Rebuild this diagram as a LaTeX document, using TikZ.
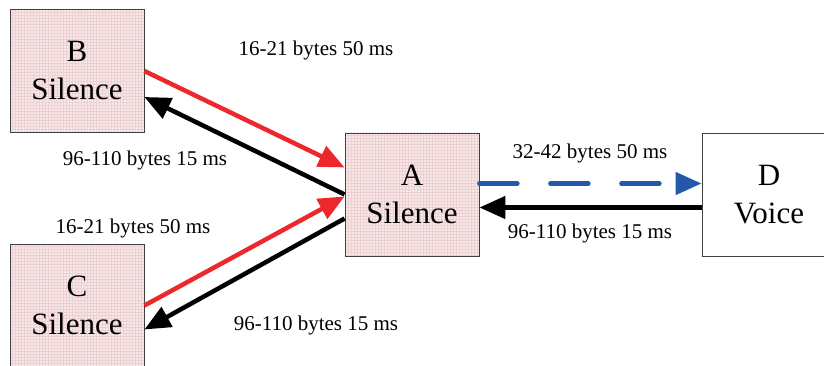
\documentclass[tikz,border=0pt]{standalone}
\usepackage{fontspec}
\setmainfont{Liberation Serif}
\usepackage{tikz}
\usetikzlibrary{arrows.meta,calc,patterns}
\definecolor{Pinkish}{RGB}{247, 232, 233}
\definecolor{PinkGrid}{RGB}{236, 208, 210}
\definecolor{Redline}{RGB}{236, 40, 44}
\definecolor{Blueline}{RGB}{36, 88, 168}

\tikzset{
    hostbox/.style = {draw = black!75, line width = 0.8pt,
        minimum width = 134pt, minimum height = 123pt,
        align = center, inner sep = 0pt,
        font = \fontsize{31}{38}\selectfont},
    silentbox/.style = {hostbox,
        preaction = {fill = Pinkish},
        pattern = grid, pattern color = PinkGrid},
    flow/.style = {line width = 4.5pt,
        -{Triangle[length = 26pt, width = 22pt]}},
    rate/.style = {font = \fontsize{21}{24}\selectfont}
}

\begin{document}
\begin{tikzpicture}[x=1pt, y=-1pt]
    \useasboundingbox (0,0) rectangle (824,366);
    \clip (0,0) rectangle (824,366);
    % Hosts
    \node[silentbox] (B) at (77,71)    {B\\Silence};
    \node[silentbox] (C) at (77,305.5) {C\\Silence};
    \node[silentbox] (A) at (412,194.5) {A\\Silence};
    \node[hostbox, fill = white] (D) at (769,194.5) {D\\Voice};
    % B <-> A
    \draw[flow, Redline] (B.east) to ([yshift=27pt]A.west);
    \draw[flow, black] (A.west) to ([yshift=-26pt]B.east);
    % C <-> A
    \draw[flow, Redline] (C.east) to ([yshift=-2pt]A.west);
    \draw[flow, black] ([yshift=-24pt]A.west) to ([yshift=-24pt]C.east);
    % A <-> D
    \draw[flow, Blueline, dash pattern = on 38pt off 33pt, line cap = round]
        ([yshift=11pt]A.east) to ([yshift=11pt]D.west);
    \draw[flow, black] ([yshift=-13pt]D.west) to ([yshift=-13pt]A.east);
    % Rates
    \node[rate] (rBA) at (316,50)  {16-21 bytes 50 ms};
    \node[rate] (rAB) at (145,160) {96-110 bytes 15 ms};
    \node[rate] (rCA) at (133,228) {16-21 bytes 50 ms};
    \node[rate] (rAC) at (316,325) {96-110 bytes 15 ms};
    \node[rate] (rAD) at (590,153) {32-42 bytes 50 ms};
    \node[rate] (rDA) at (590,233) {96-110 bytes 15 ms};
\end{tikzpicture}
\end{document}
